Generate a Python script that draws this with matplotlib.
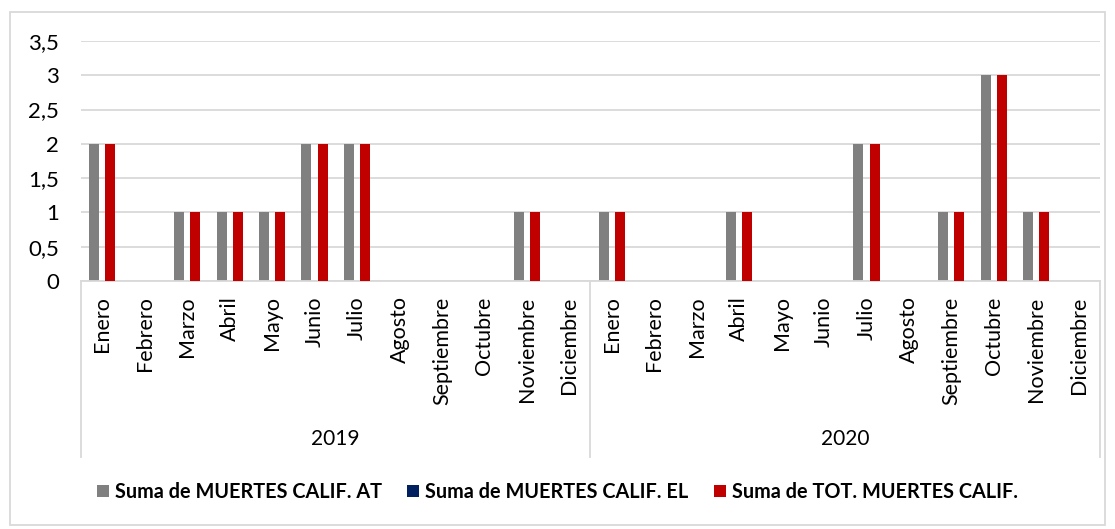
import numpy as np
import matplotlib.pyplot as plt
from matplotlib.patches import Rectangle
from matplotlib.transforms import blended_transform_factory

months = ["Enero", "Febrero", "Marzo", "Abril", "Mayo", "Junio", "Julio",
          "Agosto", "Septiembre", "Octubre", "Noviembre", "Diciembre"]
years = ["2019", "2020"]
muertes_at = [2, 0, 1, 1, 1, 2, 2, 0, 0, 0, 1, 0,
              1, 0, 0, 1, 0, 0, 2, 0, 1, 3, 1, 0]
muertes_el = [0] * 24
muertes_tot = [2, 0, 1, 1, 1, 2, 2, 0, 0, 0, 1, 0,
               1, 0, 0, 1, 0, 0, 2, 0, 1, 3, 1, 0]
series_names = ["Suma de MUERTES CALIF. AT", "Suma de MUERTES CALIF. EL",
                "Suma de TOT. MUERTES CALIF."]
colors = ["#808080", "#002060", "#c00000"]

plt.rcParams['font.family'] = ['Lato', 'DejaVu Sans']

W, H = 1115, 529
fig = plt.figure(figsize=(W / 100, H / 100), dpi=100)
left, right, top, bottom = 81, 1100, 41, 281
ax = fig.add_axes([left / W, 1 - bottom / H, (right - left) / W, (bottom - top) / H])

x = np.arange(24)
bw = 0.235
off = 0.19
for i, vals in enumerate([muertes_at, muertes_el, muertes_tot]):
    ax.bar(x + (i - 1) * off, vals, width=bw, color=colors[i], linewidth=0,
           label=series_names[i], zorder=2 + i)

ax.set_xlim(-0.5, 23.5)
ax.set_ylim(0, 3.5)
ax.set_yticks(np.arange(0, 3.51, 0.5))
ax.set_yticklabels([("%g" % v).replace(".", ",") for v in np.arange(0, 3.51, 0.5)],
                   fontsize=16)
ax.yaxis.grid(True, color="#d9d9d9", linewidth=1.3, zorder=0)
ax.set_axisbelow(True)
for s in ["top", "right", "left"]:
    ax.spines[s].set_visible(False)
ax.spines["bottom"].set_color("#d9d9d9")
ax.spines["bottom"].set_linewidth(1.3)
ax.tick_params(axis="y", length=0, pad=16)
ax.set_xticks(x)
ax.set_xticklabels(months * 2, rotation=90, va="top", ha="center", fontsize=15.5)
ax.tick_params(axis="x", length=0, pad=11)

# group separators and year labels
tr = blended_transform_factory(ax.transData, ax.transAxes)
for xv in [-0.5, 11.5, 23.5]:
    ax.plot([xv, xv], [0, -0.733], transform=tr, color="#d9d9d9",
            linewidth=1.3, clip_on=False)
for k, yr in enumerate(years):
    ax.text(5.5 + 12 * k, -0.66, yr, transform=tr, ha="center", va="center",
            fontsize=15)

leg = fig.legend(loc="center", bbox_to_anchor=(0.5, 1 - 492 / H), ncol=3,
                 frameon=False, handlelength=0.6, handleheight=0.6,
                 handletextpad=0.3, columnspacing=1.3,
                 prop={"weight": "bold", "size": 14.3})

fig.patches.append(Rectangle((10 / W, 1 - 525 / H), 1095 / W, 513 / H,
                             transform=fig.transFigure, fill=False,
                             edgecolor="#d9d9d9", linewidth=1.3))

fig.savefig("out.png", dpi=100)
